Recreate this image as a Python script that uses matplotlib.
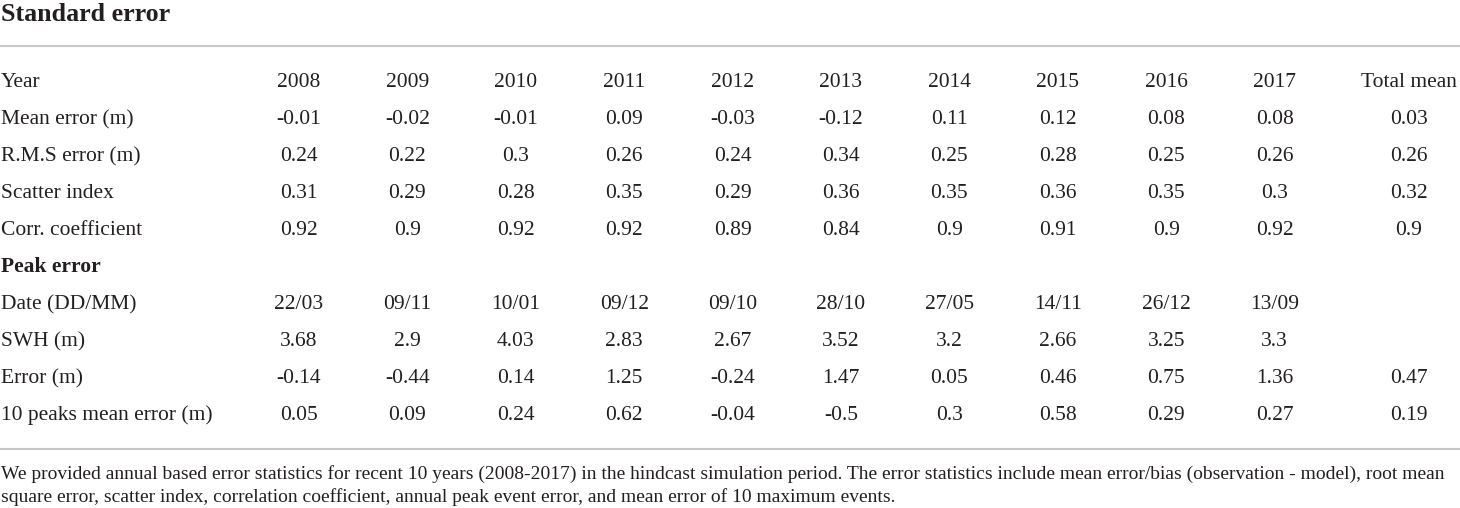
import matplotlib.pyplot as plt

# dados da tabela
anos = ["2008", "2009", "2010", "2011", "2012", "2013", "2014", "2015", "2016", "2017"]
rotulos_padrao = ["Mean error (m)", "R.M.S error (m)", "Scatter index", "Corr. coefficient"]
erro_medio = ["-0.01", "-0.02", "-0.01", "0.09", "-0.03", "-0.12", "0.11", "0.12", "0.08", "0.08", "0.03"]
erro_rms = ["0.24", "0.22", "0.3", "0.26", "0.24", "0.34", "0.25", "0.28", "0.25", "0.26", "0.26"]
indice_dispersao = ["0.31", "0.29", "0.28", "0.35", "0.29", "0.36", "0.35", "0.36", "0.35", "0.3", "0.32"]
coef_correlacao = ["0.92", "0.9", "0.92", "0.92", "0.89", "0.84", "0.9", "0.91", "0.9", "0.92", "0.9"]

rotulos_pico = ["Date (DD/MM)", "SWH (m)", "Error (m)", "10 peaks mean error (m)"]
datas_pico = ["22/03", "09/11", "10/01", "09/12", "09/10", "28/10", "27/05", "14/11", "26/12", "13/09", ""]
swh_pico = ["3.68", "2.9", "4.03", "2.83", "2.67", "3.52", "3.2", "2.66", "3.25", "3.3", ""]
erro_pico = ["-0.14", "-0.44", "0.14", "1.25", "-0.24", "1.47", "0.05", "0.46", "0.75", "1.36", "0.47"]
erro_10_picos = ["0.05", "0.09", "0.24", "0.62", "-0.04", "-0.5", "0.3", "0.58", "0.29", "0.27", "0.19"]

nota = ("We provided annual based error statistics for recent 10 years (2008-2017) in the hindcast simulation "
        "period. The error statistics include mean error/bias (observation - model), root mean\n"
        "square error, scatter index, correlation coefficient, annual peak event error, and mean error of 10 maximum events.")

W, H = 1460, 508
cor_texto = "#231f20"
cor_linha = "#c8c8c8"
plt.rcParams['font.family'] = ['Liberation Serif', 'DejaVu Serif']

fig = plt.figure(figsize=(W / 100, H / 100), dpi=100)
ax = fig.add_axes([0, 0, 1, 1])
ax.set_xlim(0, W)
ax.set_ylim(H, 0)
ax.axis('off')

x_colunas = [299 + 108.4 * i for i in range(10)] + [1409]
tam = 15.5
passo = 37.0

def linha_tabela(y, rotulo, valores):
    ax.text(1, y, rotulo, fontsize=tam, color=cor_texto, ha='left', va='baseline')
    for x, v in zip(x_colunas, valores):
        ax.text(x, y, v, fontsize=tam, color=cor_texto, ha='center', va='baseline')

ax.text(1, 21, "Standard error", fontsize=18.7, fontweight='bold', color=cor_texto, ha='left', va='baseline')
ax.plot([0, W], [46, 46], color=cor_linha, lw=1.5)

linha_tabela(87, "Year", anos + ["Total mean"])
y = 87 + passo
for rotulo, vals in zip(rotulos_padrao, [erro_medio, erro_rms, indice_dispersao, coef_correlacao]):
    linha_tabela(y, rotulo, vals)
    y += passo

ax.text(1, 272, "Peak error", fontsize=tam, fontweight='bold', color=cor_texto, ha='left', va='baseline')
y = 272 + passo
for rotulo, vals in zip(rotulos_pico, [datas_pico, swh_pico, erro_pico, erro_10_picos]):
    linha_tabela(y, rotulo, vals)
    y += passo

ax.plot([0, W], [449, 449], color=cor_linha, lw=1.5)
l1, l2 = nota.split("\n")
ax.text(1, 479, l1, fontsize=14, color=cor_texto, ha='left', va='baseline')
ax.text(1, 502, l2, fontsize=14, color=cor_texto, ha='left', va='baseline')

fig.savefig("out.png", dpi=100)
